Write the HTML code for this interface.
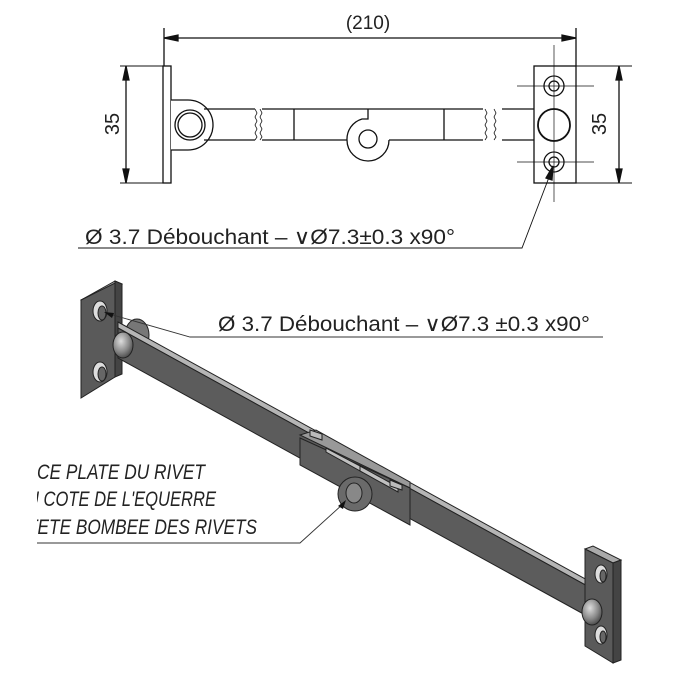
<!DOCTYPE html>
<html><head><meta charset="utf-8"><style>
html,body{margin:0;padding:0;background:#fff;}
svg{display:block;}
text{font-family:"Liberation Sans Narrow","Liberation Sans",sans-serif;fill:#222;}
</style></head><body>
<svg width="700" height="700" viewBox="0 0 700 700" xmlns="http://www.w3.org/2000/svg">
<defs>
<radialGradient id="rv" cx="40%" cy="35%" r="70%"><stop offset="0" stop-color="#ddd"/><stop offset="0.6" stop-color="#888"/><stop offset="1" stop-color="#444"/></radialGradient>
<clipPath id="clipL"><rect x="37" y="440" width="400" height="120"/></clipPath>
</defs>
<g stroke="#111" fill="none" stroke-width="1.3">
<!-- top dimension -->
<line x1="164" y1="28" x2="164" y2="75"/>
<line x1="576" y1="28" x2="576" y2="66"/>
<line x1="164" y1="38" x2="576" y2="38"/>
<path d="M164,38 l14,-3 v6 z M576,38 l-14,-3 v6 z" fill="#111"/>
<!-- left plate -->
<rect x="163" y="66" width="8" height="117" fill="#fff"/>
<line x1="120" y1="66" x2="163" y2="66" stroke-width="1"/>
<line x1="120" y1="183" x2="163" y2="183" stroke-width="1"/>
<line x1="126" y1="66" x2="126" y2="183"/>
<path d="M126,66 l-3,14 h6 z M126,183 l-3,-14 h6 z" fill="#111"/>
<!-- left lug -->
<path d="M171,100 H188 A25,25 0 0 1 188,150 H171" fill="#fff"/>
<circle cx="190" cy="125" r="15" fill="#fff"/>
<circle cx="190" cy="125" r="12"/>
<!-- bar -->
<path d="M204,109 H255 M204,140 H255 M262,109 H483 M262,140 H347 M389,140 H483 M502,109 H540 M502,140 H540"/>
<path d="M255,109 l2,4 l-2,4 l2,4 l-2,4 l2,4 l-2,4 l2,4 l-2,3 M260,109 l2,4 l-2,4 l2,4 l-2,4 l2,4 l-2,4 l2,4 l-2,3" stroke-width="0.8"/>
<path d="M485,109 l2,4 l-2,4 l2,4 l-2,4 l2,4 l-2,4 l2,4 l-2,3 M494,109 l2,4 l-2,4 l2,4 l-2,4 l2,4 l-2,4 l2,4 l-2,3" stroke-width="0.8"/>
<line x1="294" y1="109" x2="294" y2="140"/>
<line x1="444" y1="109" x2="444" y2="140"/>
<path d="M347,140 A21,21 0 0 0 389,140"/>
<path d="M347,140 A21,21 0 0 1 362,119 H368 V109"/>
<circle cx="368" cy="139" r="9"/>
<!-- right plate -->
<rect x="534" y="66" width="42" height="117" fill="#fff"/>
<line x1="576" y1="66" x2="632" y2="66" stroke-width="1"/>
<line x1="576" y1="183" x2="632" y2="183" stroke-width="1"/>
<line x1="619" y1="66" x2="619" y2="183"/>
<path d="M619,66 l-3,14 h6 z M619,183 l-3,-14 h6 z" fill="#111"/>
<circle cx="554" cy="86" r="10"/><circle cx="554" cy="86" r="5"/>
<circle cx="554" cy="162" r="10"/><circle cx="554" cy="162" r="5"/>
<circle cx="554" cy="125" r="16" fill="#fff" stroke-width="1.8"/>
<g stroke-width="0.7"><line x1="517" y1="86" x2="594" y2="86"/><line x1="517" y1="162" x2="594" y2="162"/><line x1="554" y1="45" x2="554" y2="202"/></g>
<!-- leader top -->
<polyline points="551,172 522,248 78,248" stroke-width="0.9"/>
<path d="M553,166 l-7,12 l6,2 z" fill="#111"/>
</g>
<text x="368" y="29" font-size="19" text-anchor="middle">(210)</text>
<text transform="translate(119,124) rotate(-90)" font-size="20" text-anchor="middle">35</text>
<text transform="translate(606,124) rotate(-90)" font-size="20" text-anchor="middle">35</text>
<text x="85" y="244" font-size="21" textLength="370" lengthAdjust="spacingAndGlyphs">Ø 3.7 Débouchant – ∨Ø7.3±0.3 x90°</text>

<!-- 3D view -->
<g stroke="#222" stroke-width="1">
<polygon points="81,300 115,281 122,284 88,303" fill="#aaa"/>
<polygon points="115,281 122,284 122,374 115,377" fill="#444"/>
<polygon points="81,300 115,283 115,377 81,398" fill="#5a5a5a"/>
<ellipse cx="100" cy="311" rx="7" ry="10" fill="#ddd"/>
<ellipse cx="102" cy="313" rx="4" ry="7" fill="#666"/>
<ellipse cx="100" cy="372" rx="7" ry="10" fill="#ddd"/>
<ellipse cx="102" cy="374" rx="4" ry="7" fill="#666"/>
<ellipse cx="137" cy="335" rx="12" ry="16" fill="#777"/>
<!-- bar -->
<polygon points="118,322 600,587 600,593 118,328" fill="#b5b5b5"/>
<polygon points="118,328 600,593 598,622 118,358" fill="#5c5c5c"/>
<!-- sleeve -->
<polygon points="300,435 316,430 410,482 410,488" fill="#999"/>
<polygon points="300,438 410,488 410,525 300,465" fill="#5e5e5e"/>
<polygon points="326,448 362,467 362,472 326,452" fill="#c0c0c0"/>
<polygon points="360,466 398,487 398,492 360,471" fill="#c0c0c0"/>
<polygon points="310,430 322,434 322,440 310,436" fill="#bbb"/>
<polygon points="390,480 402,485 402,490 390,486" fill="#bbb"/>
<circle cx="355" cy="494" r="17" fill="#6a6a6a"/>
<ellipse cx="354" cy="493" rx="8" ry="10" fill="#888"/>
<!-- right plate -->
<polygon points="585,549 593,546 621,560 613,563" fill="#aaa"/>
<polygon points="613,563 621,560 621,660 613,663" fill="#444"/>
<polygon points="585,549 613,563 613,663 585,646" fill="#5a5a5a"/>
<ellipse cx="601" cy="574" rx="6" ry="9" fill="#ddd"/>
<ellipse cx="603" cy="576" rx="3" ry="6" fill="#666"/>
<ellipse cx="601" cy="635" rx="6" ry="9" fill="#ddd"/>
<ellipse cx="603" cy="637" rx="3" ry="6" fill="#666"/>
<ellipse cx="123" cy="345" rx="10" ry="13" fill="url(#rv)"/>
<ellipse cx="592" cy="612" rx="10" ry="13" fill="url(#rv)"/>
</g>
<g stroke="#333" stroke-width="0.9" fill="none">
<polyline points="106,313 190,337 603,337"/>
<polyline points="343,504 300,543 37,543"/>
</g>
<path d="M104,312 l10,1 l-2,5 z" fill="#111"/>
<path d="M346,500 l-3,9 l-5,-3 z" fill="#111"/>
<text x="218" y="331" font-size="21" textLength="372" lengthAdjust="spacingAndGlyphs">Ø 3.7 Débouchant – ∨Ø7.3 ±0.3 x90°</text>
<g clip-path="url(#clipL)" font-size="21" font-style="italic">
<text x="37" y="479" textLength="168" lengthAdjust="spacingAndGlyphs">CE PLATE DU RIVET</text>
<text x="27" y="506" textLength="189" lengthAdjust="spacingAndGlyphs">U COTE DE L'EQUERRE</text>
<text x="27" y="534" textLength="230" lengthAdjust="spacingAndGlyphs">TETE BOMBEE DES RIVETS</text>
</g>
</svg>
</body></html>
